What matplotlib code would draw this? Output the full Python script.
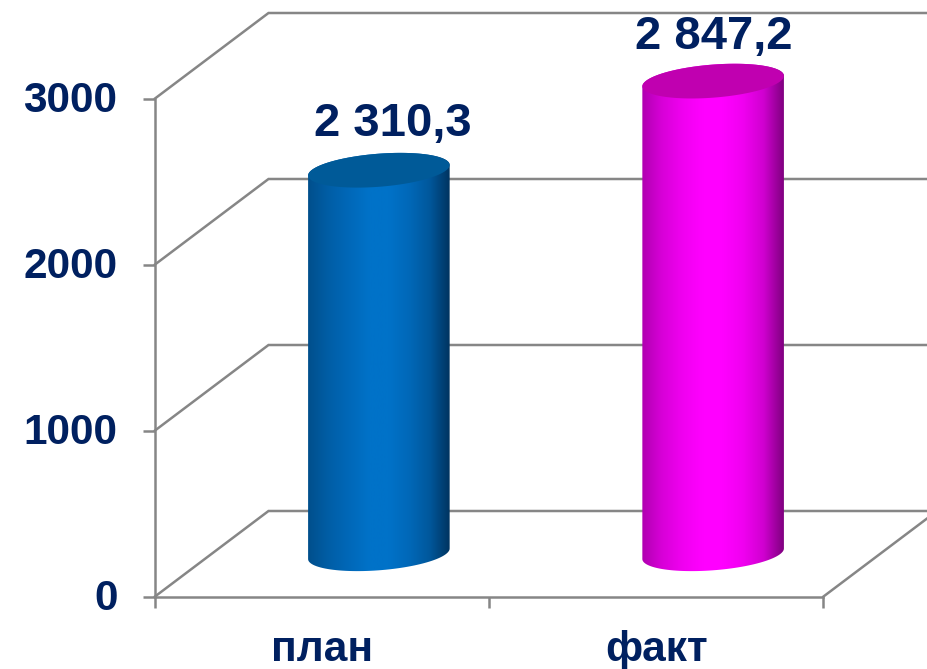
import numpy as np
import matplotlib.pyplot as plt
from matplotlib.colors import LinearSegmentedColormap
from matplotlib.patches import Polygon
from matplotlib.transforms import ScaledTranslation

plt.rcParams['font.family'] = ['Liberation Sans', 'DejaVu Sans']

# Data
categories = ['план', 'факт']
values = [2310.3, 2847.2]
value_labels = ['2 310,3', '2 847,2']
y_ticks = [0, 1000, 2000, 3000]

# Figure size and axes box in pixels
W = 927
H = 669
left, right = 155, 823.5
bottom, top = 596.5, 98.5

# 3D look, in pixels
depth_x = 113.5
depth_y = 85.5
radius = 71
tilt = np.radians(4.5)
semi_minor = 16.5

grey = '#868686'
navy = '#002060'
cmaps = [
    LinearSegmentedColormap.from_list('blue', ['#004f8c', '#005ea6', '#0068b8', '#0072c8',
                                               '#0072c8', '#0068b8', '#00589c', '#003460']),
    LinearSegmentedColormap.from_list('pink', ['#b000b0', '#d800d8', '#f000f0', '#ff00ff',
                                               '#ff00ff', '#f000f0', '#d000d0', '#800080']),
]
top_colors = ['#005a98', '#c000b0']
label_shift = [(14, 46), (1, 44)]

fig = plt.figure(figsize=(W / 100, H / 100), dpi=100)
ax = fig.add_axes([left / W, 1 - bottom / H, (right - left) / W, (bottom - top) / H])
ax.patch.set_alpha(0)

ux = 2 / (right - left)  # data units per pixel
uy = 3000 / (bottom - top)
dx = depth_x * ux
dy = depth_y * uy

# back wall, side wall and floor lines
for t in y_ticks:
    ax.plot([0, dx, 2 + dx], [t, t + dy, t + dy], color=grey, lw=1.8, clip_on=False, zorder=1,
            solid_joinstyle='miter')
ax.plot([2, 2 + dx], [0, dy], color=grey, lw=1.8, clip_on=False, zorder=1)


def ellipse(cx, cy, t):
    # tilted ellipse, pixel radii converted to data units
    px = radius * np.cos(t) * np.cos(tilt) - semi_minor * np.sin(t) * np.sin(tilt)
    py = radius * np.cos(t) * np.sin(tilt) + semi_minor * np.sin(t) * np.cos(tilt)
    return cx + px * ux, cy + py * uy


for i, v in enumerate(values):
    cx = i + 0.5 + dx / 2
    base = dy / 2

    # side of the cylinder: lower half of the bottom ellipse, upper end along the top
    tb = np.linspace(np.pi, 2 * np.pi, 60)
    xb, yb = ellipse(cx, base, tb)
    tt = np.linspace(0, np.pi, 60)
    xt, yt = ellipse(cx, base + v, tt)
    body = Polygon(np.column_stack([np.r_[xb, xt], np.r_[yb, yt]]), closed=True,
                   transform=ax.transData, facecolor='none', edgecolor='none', clip_on=False)
    ax.add_patch(body)
    grad = np.linspace(0, 1, 256).reshape(1, -1)
    im = ax.imshow(grad, cmap=cmaps[i], aspect='auto', zorder=3,
                   extent=[cx - radius * ux, cx + radius * ux, base - 200, base + v + 200])
    im.set_clip_box(fig.bbox)
    im.set_clip_path(body)

    # top face
    xe, ye = ellipse(cx, base + v, np.linspace(0, 2 * np.pi, 120))
    ax.fill(xe, ye, color=top_colors[i], lw=0, clip_on=False, zorder=4)

    ax.annotate(value_labels[i], (cx, base + v), xytext=label_shift[i], textcoords='offset pixels',
                ha='center', va='center', fontsize=34, fontweight='bold', color=navy,
                annotation_clip=False, zorder=5)

ax.set_xlim(0, 2)
ax.set_ylim(0, 3000)

for s in ['top', 'right']:
    ax.spines[s].set_visible(False)
for s in ['left', 'bottom']:
    ax.spines[s].set_color(grey)
    ax.spines[s].set_linewidth(1.8)

ax.set_yticks(y_ticks)
ax.set_xticks([0, 1, 2])
ax.set_xticklabels([])
ax.set_xticks([0.5, 1.5], minor=True)
ax.set_xticklabels(categories, minor=True)
ax.tick_params(axis='x', which='major', length=8, width=1.8, color=grey)
ax.tick_params(axis='x', which='minor', length=0, pad=24, labelsize=30.5, labelcolor=navy)
ax.tick_params(axis='y', length=9, width=1.8, color=grey, pad=18, labelsize=30.5, labelcolor=navy)
up = ScaledTranslation(0, 2 / 100, fig.dpi_scale_trans)
for lab in ax.get_xticklabels(minor=True) + ax.get_yticklabels():
    lab.set_fontweight('bold')
for lab in ax.get_yticklabels():
    lab.set_transform(lab.get_transform() + up)

fig.savefig('out.png', dpi=100)
